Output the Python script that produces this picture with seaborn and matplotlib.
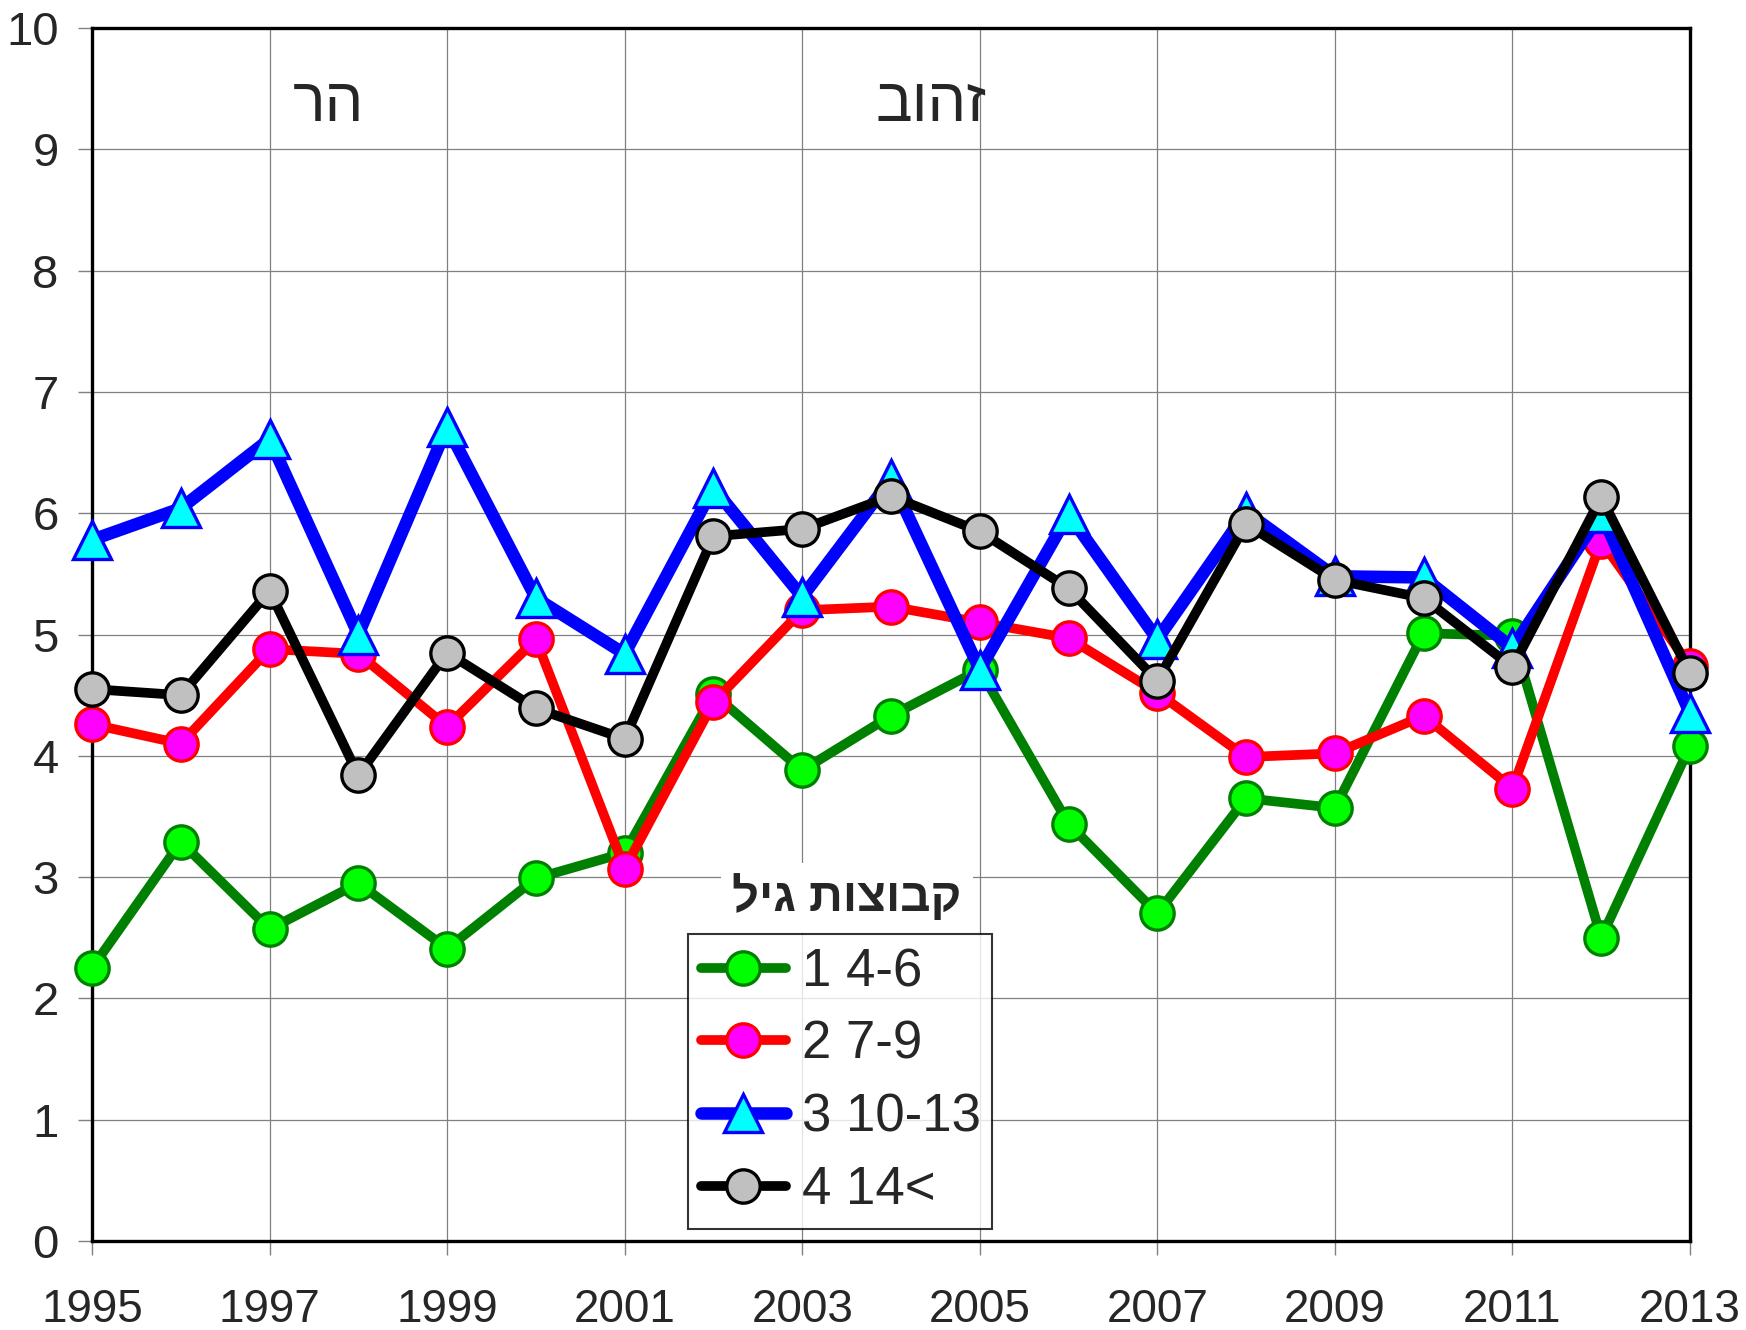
import numpy as np
import pandas as pd
import matplotlib
matplotlib.use("Agg")
import matplotlib.pyplot as plt
import seaborn as sns

# 데이터
years = list(range(1995, 2014))
g1 = [2.25, 3.29, 2.57, 2.95, 2.41, 2.99, 3.20, 4.51, 3.88, 4.33, 4.71, 3.44, 2.70, 3.65, 3.57, 5.01, 4.99, 2.50, 4.08]
g2 = [4.26, 4.10, 4.88, 4.84, 4.24, 4.96, 3.07, 4.44, 5.20, 5.23, 5.10, 4.97, 4.52, 3.99, 4.02, 4.33, 3.73, 5.77, 4.74]
g3 = [5.78, 6.04, 6.61, 5.00, 6.71, 5.30, 4.84, 6.21, 5.31, 6.28, 4.71, 5.99, 4.96, 6.01, 5.48, 5.47, 4.89, 6.00, 4.35]
g4 = [4.55, 4.50, 5.36, 3.84, 4.85, 4.39, 4.14, 5.81, 5.87, 6.14, 5.85, 5.38, 4.62, 5.91, 5.45, 5.30, 4.73, 6.13, 4.68]
labels = ["1 4-6", "2 7-9", "3 10-13", "4 14<"]
legend_title = "קבוצות גיל"
top_texts = ["הר", "זהוב"]
xticks = list(range(1995, 2014, 2))
yticks = list(range(0, 11))

df = pd.DataFrame({"year": years * 4,
                   "value": g1 + g2 + g3 + g4,
                   "group": [l for l in labels for _ in years]})

sns.set_style("white")
plt.rcParams['font.family'] = ['Liberation Sans', 'DejaVu Sans']

fig = plt.figure(figsize=(17.46, 13.30), dpi=100)
ax = fig.add_axes([92 / 1746, 1 - 1241 / 1330, 1598 / 1746, 1213 / 1330])

# 스타일 (선색, 마커, 면색, 테두리색, 선굵기, 마커크기)
styles = {
    "1 4-6": ("#008000", "o", "#00ff00", "#008000", 7, 24),
    "2 7-9": ("#ff0000", "o", "#ff00ff", "#ff0000", 7, 24),
    "3 10-13": ("#0000ff", "^", "#00ffff", "#0000ff", 9, 27),
    "4 14<": ("#000000", "o", "#c0c0c0", "#000000", 7, 24),
}

for lab in labels:
    lc, mk, fc, ec, lw, ms = styles[lab]
    sub = df[df["group"] == lab]
    sns.lineplot(data=sub, x="year", y="value", ax=ax, color=lc, marker=mk,
                 markerfacecolor=fc, markeredgecolor=ec, markeredgewidth=2.4,
                 markersize=ms, linewidth=lw, label=lab, clip_on=False, zorder=3)

ax.set_xlim(1995, 2013)
ax.set_ylim(0, 10)
ax.set_xticks(xticks)
ax.set_yticks(yticks)
ax.set_xticklabels([str(x) for x in xticks], fontsize=33)
ax.set_yticklabels([str(y) for y in yticks], fontsize=34)
ax.tick_params(axis="both", direction="out", length=10, width=1, color="#808080",
               left=True, bottom=True)
ax.tick_params(axis="y", pad=14)
ax.tick_params(axis="x", pad=24)
ax.grid(True, color="#808080", linewidth=0.9)
ax.set_axisbelow(True)
for s in ax.spines.values():
    s.set_visible(True)
    s.set_color("black")
    s.set_linewidth(2.4)
ax.set_xlabel("")
ax.set_ylabel("")

# 글자 순서는 원본 그림과 같게 뒤집어서 표시
ax.text(1997.66, 9.36, top_texts[0][::-1], fontsize=44, ha="center", va="center")
ax.text(2004.45, 9.36, top_texts[1][::-1], fontsize=44, ha="center", va="center")

ax.text(2003.5, 2.83, legend_title[::-1], fontsize=34, fontweight="bold", ha="center", va="center",
        bbox=dict(facecolor="white", edgecolor="none", pad=8), zorder=4)

leg = ax.legend(loc="lower left", bbox_to_anchor=(0.373, 0.0103, 0.19, 0.239), mode="expand",
                fontsize=38, frameon=True, fancybox=False, handlelength=1.6,
                labelspacing=0.43, borderaxespad=0, handletextpad=0.3, borderpad=0.25)
leg.get_frame().set_edgecolor("black")
leg.get_frame().set_linewidth(1.5)
leg.set_zorder(5)

fig.savefig("out.png", dpi=100)
